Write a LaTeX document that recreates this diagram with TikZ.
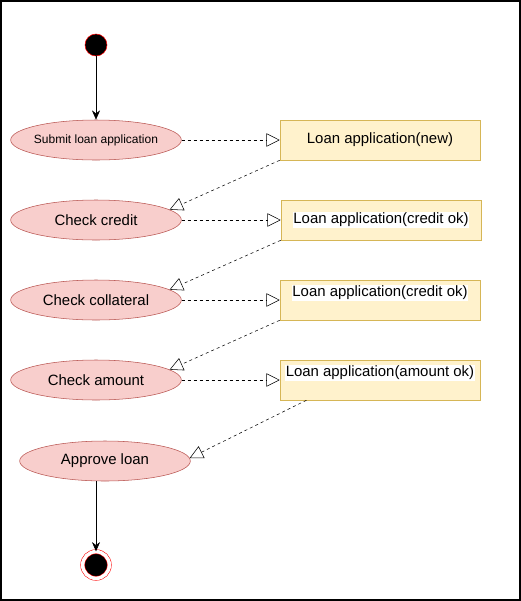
\documentclass[tikz,border=0pt]{standalone}
\usepackage{fontspec}
\setmainfont{Liberation Sans}
\usetikzlibrary{arrows.meta,shapes.geometric}
\definecolor{actfill}{HTML}{F8CECC}
\definecolor{actdraw}{HTML}{B85450}
\definecolor{objfill}{HTML}{FFF2CC}
\definecolor{objdraw}{HTML}{D6B656}

\begin{document}
\begin{tikzpicture}[x=0.75pt,y=-0.75pt]
\tikzset{activity/.style = {shape=ellipse,draw=actdraw,fill=actfill,minimum width=128pt,minimum height=30pt,inner sep=0pt,font=\fontsize{11.2}{13}\selectfont}}
\tikzset{object/.style = {shape=rectangle,draw=objdraw,fill=objfill,minimum width=150pt,minimum height=30pt,inner sep=0pt,font=\fontsize{11.2}{13}\selectfont}}
\tikzset{objtext/.style = {fill=white,inner sep=0.6pt,font=\fontsize{11.2}{13}\selectfont}}
\tikzset{start/.style = {shape=circle,draw=red,fill=black,minimum size=16.5pt,inner sep=0pt}}
\tikzset{finish/.style = {shape=circle,draw=red,fill=black,double=white,double distance=2.6pt,minimum size=20pt,inner sep=0pt}}
\tikzset{flow/.style = {-{Stealth[length=7pt,width=6pt]}}}
\tikzset{dep/.style = {dash pattern=on 2.25pt off 2.25pt,-{Triangle[open,length=10pt,width=10pt]}}}
\useasboundingbox (0,0) rectangle (521,601);
\draw[line width=1.2pt] (0.8,0.8) rectangle (519.8,599.8);
% activities
\node[start] (s) at (96,45) {};
\node[activity,inner xsep=-2pt,font=\fontsize{9}{11}\selectfont] (a1) at (96,140) {Submit loan application};
\node[activity] (a2) at (96,220) {Check credit};
\node[activity] (a3) at (96,300) {Check collateral};
\node[activity] (a4) at (96,380) {Check amount};
\node[activity] (a5) at (105,461) {Approve loan};
\node[finish] (e) at (96,565) {};
% objects
\node[object] (o1) at (380,140) {Loan application(new)};
\node[object] (o2) at (381,220) {};
\node[object] (o3) at (380,300) {};
\node[object] (o4) at (380,380) {};
\node[objtext] (t2) at (381,220) {Loan application(credit ok)};
\node[objtext] (t3) at (380,293) {Loan application(credit ok)};
\node[objtext] (t4) at (380,373) {Loan application(amount ok)};
% control flow
\draw[flow] (s) -- (a1);
\draw[flow] (a5.south -| e) -- (e);
% object flow
\draw[dep] (a1) -- (o1);
\draw[dep] (a2) -- (o2);
\draw[dep] (a3) -- (o3);
\draw[dep] (a4) -- (o4);
\draw[dep] (o1.south west) -- (a2.8);
\draw[dep] (o2.south west) -- (a3.8);
\draw[dep] (o3.south west) -- (a4.8);
\draw[dep] ([xshift=20pt]o4.south west) -- (a5.2);

\end{tikzpicture}
\end{document}
